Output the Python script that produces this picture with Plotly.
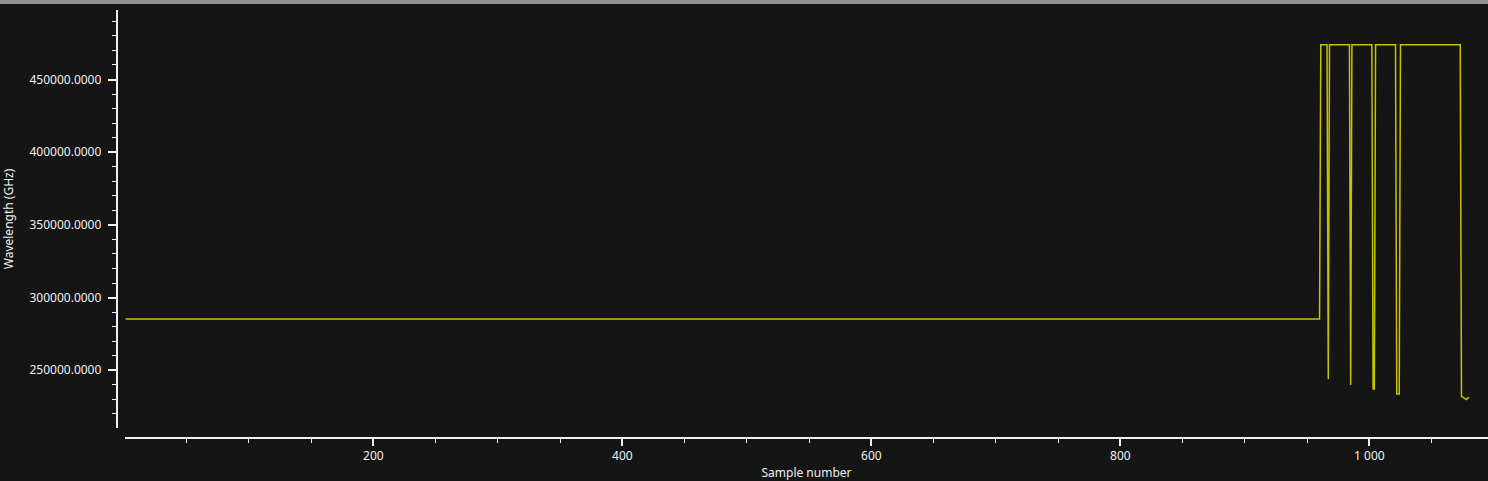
import plotly.graph_objects as go

# Data: sample number vs wavelength (GHz), vertices of the stepped trace
sample_number = [1, 960, 961, 966, 967, 968, 984, 985, 986, 1002, 1003, 1004, 1005,
                 1021, 1022, 1024, 1025, 1073, 1074, 1076, 1078, 1080]
wavelength_ghz = [285300, 285300, 473900, 473900, 243800, 473900, 473900, 239900, 473900,
                  473900, 237100, 237100, 473900, 473900, 233700, 233700, 473900,
                  473900, 232000, 230900, 229900, 231600]

W, H = 1488, 481
BG = "#151515"
FG = "#f0f0f0"
FONT = "Noto Sans"

fig = go.Figure()
fig.add_trace(go.Scatter(
    x=sample_number, y=wavelength_ghz, mode="lines",
    line=dict(color="#c4c400", width=1.5),
    hoverinfo="x+y", showlegend=False,
))

fig.update_layout(
    width=W, height=H,
    margin=dict(l=0, r=0, t=0, b=0),
    paper_bgcolor=BG, plot_bgcolor=BG,
    separators=". ",
    font=dict(family=FONT, size=12, color=FG),
    showlegend=False,
    xaxis=dict(
        domain=[125 / W, 1.0],
        anchor="free", position=(H - 438) / H,
        range=[0.5, 1095.3],
        showgrid=False, zeroline=False,
        showline=True, linecolor=FG, linewidth=1.5,
        ticks="outside", ticklen=7, tickwidth=1.5, tickcolor=FG,
        tick0=0, dtick=200, tickformat=",d",
        minor=dict(ticks="outside", ticklen=4, tickwidth=1, tickcolor=FG, dtick=50, showgrid=False),
        tickfont=dict(family=FONT, size=12, color=FG),
        title=dict(text="Sample number", font=dict(family=FONT, size=12, color=FG), standoff=5),
        automargin=False,
    ),
    yaxis=dict(
        domain=[(H - 428) / H, (H - 10) / H],
        anchor="free", position=116.5 / W,
        range=[210300, 497800],
        showgrid=False, zeroline=False,
        showline=True, linecolor=FG, linewidth=1.5,
        ticks="outside", ticklen=8, tickwidth=1.5, tickcolor=FG,
        tick0=250000, dtick=50000, tickformat=".4f",
        minor=dict(ticks="outside", ticklen=4, tickwidth=1, tickcolor=FG, dtick=10000, showgrid=False),
        tickfont=dict(family=FONT, size=12, color=FG),
        ticklabelstandoff=4,
        title=dict(text="Wavelength (GHz)", font=dict(family=FONT, size=12, color=FG), standoff=15),
        automargin=False,
    ),
    shapes=[dict(type="rect", xref="paper", yref="paper", x0=0, x1=1,
                 y0=(H - 4) / H, y1=1, fillcolor="#8f8f8f", line=dict(width=0), layer="above")],
)

fig.write_html(
    "out.html",
    config={"displayModeBar": False},
    post_script="document.body.style.margin='0';document.body.style.padding='0';"
                "document.body.style.background='#151515';document.body.style.overflow='hidden';",
)
